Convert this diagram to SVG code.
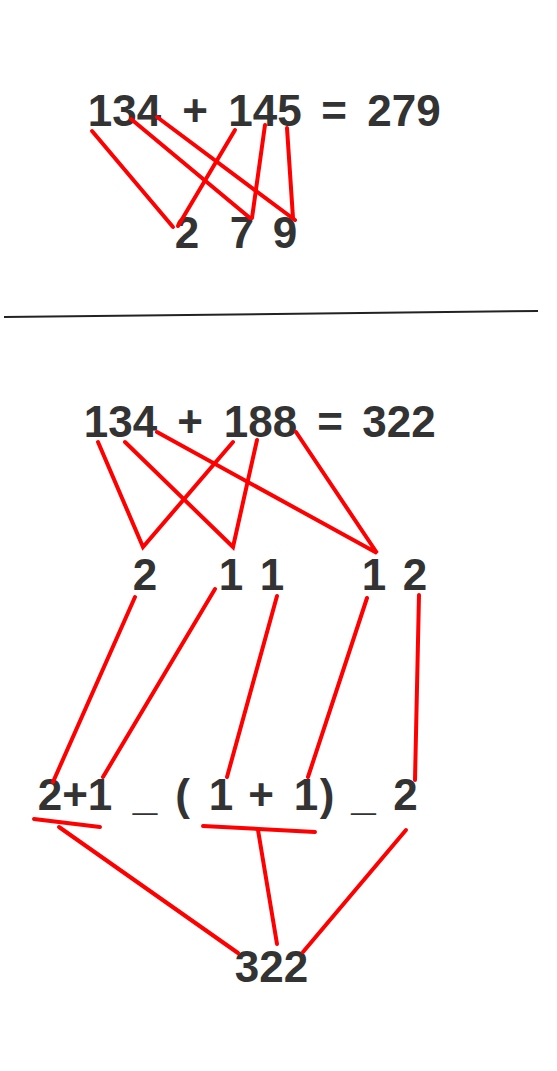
<svg xmlns="http://www.w3.org/2000/svg" width="557" height="1071" viewBox="0 0 557 1071">
<style>
.t{font-family:"Liberation Sans",Arial,sans-serif;font-weight:bold;font-size:44px;fill:#333;text-anchor:middle}
.r{stroke:#ff0000;stroke-width:4;stroke-linecap:round;fill:none}
</style>
<rect width="557" height="1071" fill="#fff"/>
<g id="eq1">
<text class="t" x="124.5" y="126">134</text>
<text class="t" x="195" y="126">+</text>
<text class="t" x="265" y="126">145</text>
<text class="t" x="334" y="126">=</text>
<text class="t" x="404" y="126">279</text>
</g>
<g id="res1">
<text class="t" x="187" y="248">2</text>
<text class="t" x="242" y="248">7</text>
<text class="t" x="285" y="248">9</text>
</g>
<line id="divider" x1="4" y1="317" x2="538" y2="311" stroke="#222" stroke-width="2"/>
<g id="eq2">
<text class="t" x="120.5" y="437">134</text>
<text class="t" x="190" y="437">+</text>
<text class="t" x="260.5" y="437">188</text>
<text class="t" x="330" y="437">=</text>
<text class="t" x="399" y="437">322</text>
</g>
<g id="sums">
<text class="t" x="145" y="590">2</text>
<text class="t" x="231" y="590">1</text>
<text class="t" x="272" y="590">1</text>
<text class="t" x="374" y="590">1</text>
<text class="t" x="415" y="590">2</text>
</g>
<g id="expr">
<text class="t" x="75" y="810">2+1</text>
<text class="t" x="145" y="810">_</text>
<text class="t" x="182.5" y="810">(</text>
<text class="t" x="221" y="810">1</text>
<text class="t" x="261" y="810">+</text>
<text class="t" x="306" y="810">1</text>
<text class="t" x="327" y="810">)</text>
<text class="t" x="363.5" y="810">_</text>
<text class="t" x="405.5" y="810">2</text>
</g>
<g id="result">
<text class="t" x="271.5" y="982">322</text>
</g>
<g id="connectors">
<line class="r" x1="92" y1="131" x2="173" y2="227"/>
<line class="r" x1="131" y1="119" x2="250" y2="218"/>
<line class="r" x1="157" y1="117" x2="295" y2="220"/>
<line class="r" x1="235" y1="130" x2="178" y2="226"/>
<line class="r" x1="265" y1="125" x2="252" y2="218"/>
<line class="r" x1="287" y1="128" x2="293" y2="218"/>

<polyline class="r" points="98,442 143,547 233,442"/>
<polyline class="r" points="125,442 233,547 257,440"/>
<polyline class="r" points="157,432 377,553 296,432"/>

<line class="r" x1="135" y1="597" x2="53" y2="782"/>
<line class="r" x1="215" y1="589" x2="103" y2="777"/>
<line class="r" x1="277" y1="596" x2="227" y2="777"/>
<line class="r" x1="367" y1="598" x2="308" y2="777"/>
<line class="r" x1="419" y1="595" x2="415" y2="780"/>

<line class="r" x1="34" y1="819" x2="100" y2="827"/>
<line class="r" x1="203" y1="826" x2="315" y2="832"/>
<line class="r" x1="59" y1="827" x2="238" y2="953"/>
<line class="r" x1="258" y1="830" x2="277" y2="944"/>
<line class="r" x1="406" y1="830" x2="303" y2="952"/>
</g>
</svg>
